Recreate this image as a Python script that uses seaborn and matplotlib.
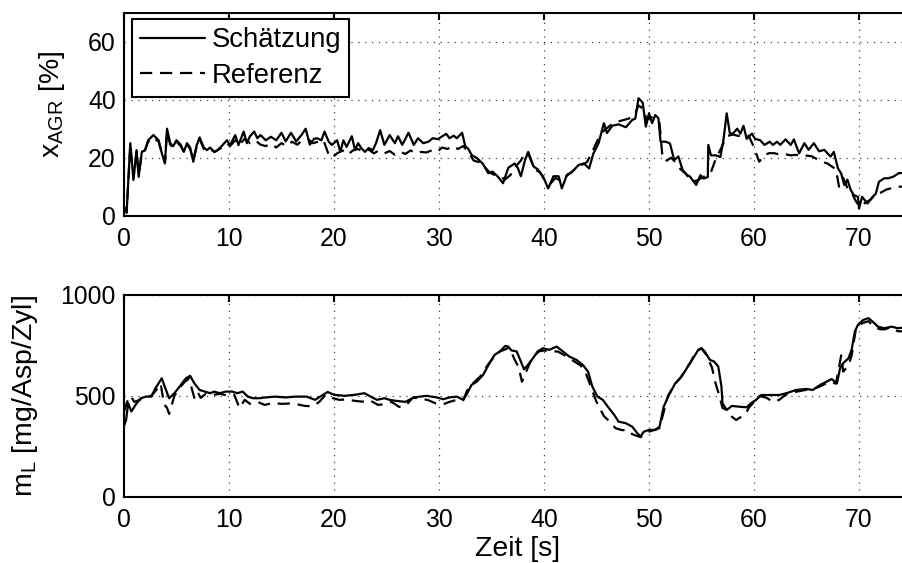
import matplotlib
matplotlib.use("Agg")
import matplotlib.pyplot as plt
import seaborn as sns
import pandas as pd

# ---- AGR rate: estimate (solid) ----
t_agr_est = [0, 0.25, 0.6, 0.9, 1.2, 1.4, 1.7, 2.0, 2.3, 2.8, 3.3, 3.6, 3.9, 4.1, 4.4, 4.7,
             5.0, 5.4, 5.7, 6.0, 6.3, 6.6, 6.9, 7.2, 7.6, 7.9, 8.2, 8.6, 8.9, 9.3, 9.8, 10.1,
             10.6, 10.9, 11.4, 11.7, 12.0, 12.4, 12.7, 13.0, 13.5, 14.0, 14.5, 15.0, 15.4,
             15.9, 16.4, 16.9, 17.3, 17.7, 18.1, 18.4, 18.8, 19.1, 19.5, 19.8, 20.3, 20.6,
             20.9, 21.2, 21.7, 22.0, 22.3, 22.6, 22.95, 23.3, 23.7, 24.0, 24.4, 24.8, 25.3,
             25.8, 26.1, 26.5, 27.1, 27.6, 28.0, 28.5, 29.0, 29.4, 29.9, 30.4, 30.7, 31.0,
             31.4, 31.7, 32.2, 32.5, 32.8, 33.1, 33.7, 34.2, 34.7, 35.1, 35.6, 36.1, 36.6,
             37.2, 37.5, 37.8, 38.2, 38.5, 39.0, 39.4, 39.9, 40.4, 40.9, 41.4, 41.7, 42.2,
             42.6, 43.3, 43.8, 44.3, 44.7, 45.2, 45.7, 46.0, 46.5, 47.1, 47.8, 48.4, 48.7,
             49.0, 49.4, 49.7, 50.0, 50.3, 50.6, 50.9, 51.1, 51.6, 52.0, 52.4, 52.8, 53.2,
             53.6, 53.9, 54.2, 54.5, 54.9, 55.2, 55.6, 55.65, 55.9, 56.4, 56.8, 57.1, 57.4,
             57.7, 58.0, 58.4, 58.7, 59.0, 59.3, 59.8, 60.1, 60.6, 61.0, 61.5, 61.8, 62.2,
             62.5, 63.0, 63.5, 63.8, 64.3, 64.8, 65.2, 65.7, 66.2, 66.7, 67.0, 67.3, 67.6,
             68.0, 68.3, 68.6, 68.9, 69.2, 69.5, 69.9, 70.0, 70.3, 70.8, 71.3, 71.6, 71.9,
             72.4, 72.8, 73.3, 73.8, 74.2, 75.0]
x_agr_est = [3, 1, 25, 12.3, 22.6, 13.4, 22, 22.6, 26, 27.8, 26, 21.6, 18, 30, 25, 24,
             26, 24.5, 22, 25, 23.5, 18.6, 24, 27, 23.5, 22.6, 23.5, 22, 22.6, 24, 26, 24.3,
             27.8, 24.3, 29, 25, 27.4, 29, 26.7, 27.8, 26, 27.2, 26, 28.6, 25.6,
             28.6, 25.6, 27.8, 30, 24.5, 26.5, 26.7, 26, 29, 25.5, 24.4, 26, 22,
             26, 23.7, 27.4, 22.6, 25, 23.3, 22, 23.3, 22.6, 25, 29.5, 24.4, 27.8,
             25, 27.4, 24.4, 28.6, 24.4, 26.7, 25, 25.5, 26.7, 26.4, 27.6, 28.2, 26.7,
             27.6, 26.7, 28.6, 24, 23, 21, 19.6, 17.8, 14.6, 15.2, 13.5, 11.2, 16.5,
             18, 16.5, 13.6, 19.2, 22, 17, 16, 13.6, 9.4, 13.6, 13.6, 9.4, 14.2,
             14.8, 17.5, 18, 16.3, 21.4, 25, 31.9, 28.5, 31, 31.5, 30.5, 33, 33.5,
             40.5, 39, 30.7, 35.3, 31.9, 34.7, 33.6, 25.5, 25.5, 24.9, 19.2, 20.4, 15.8,
             14.1, 13.5, 12, 10.6, 14, 12.8, 13.3, 24.4, 20.8, 20.8, 20.2, 26.3, 35.3,
             28.4, 28.3, 30, 28.3, 31, 26.5, 28.3, 26.5, 26, 24.4, 25.5, 24.4, 25.5,
             24.4, 26.3, 24.4, 26.3, 21.5, 25, 22.7, 25, 22.2, 22.7, 21.5, 20.4, 22,
             16.3, 14.6, 10.6, 12.4, 9, 7.1, 6.5, 2.5, 6.5, 4.2, 6.5, 7.6, 11.7,
             12.9, 12.9, 13.5, 14.7, 14.7, 14.7]

# ---- AGR rate: reference (dashed) ----
t_agr_ref = [0, 0.25, 0.6, 0.9, 1.2, 1.4, 1.7, 2.0, 2.3, 2.8, 3.3, 3.6, 3.9, 4.1, 4.4, 4.7,
             5.0, 5.4, 5.7, 6.0, 6.3, 6.6, 6.9, 7.2, 7.6, 7.9, 8.2, 8.6, 8.9, 9.3, 9.8, 10.1,
             10.6, 11.0, 11.5, 12.0, 12.5, 13.0, 13.5, 14.0, 14.5, 15.0, 15.5, 16.0, 16.5,
             17.0, 17.5, 18.0, 18.5, 19.0, 19.5, 19.8, 20.3, 20.8, 21.3, 21.8, 22.3, 22.8,
             23.3, 23.8, 24.3, 24.8, 25.3, 25.8, 26.3, 26.8, 27.3, 27.8, 28.3, 28.8, 29.3,
             29.8, 30.3, 30.8, 31.3, 31.8, 32.3, 32.8, 33.3, 33.8, 34.3, 34.8, 35.3, 35.8,
             36.3, 36.8, 37.3, 37.8, 38.2, 38.6, 39.1, 39.6, 40.1, 40.6, 41.1, 41.6, 42.1,
             42.6, 43.1, 43.6, 44.1, 44.6, 45.1, 45.6, 46.1, 46.6, 47.1, 47.6, 48.1, 48.6,
             49.0, 49.4, 49.8, 50.2, 50.6, 51.0, 51.3, 51.7, 52.1, 52.5, 53.0, 53.5, 54.0,
             54.5, 55.0, 55.5, 55.9, 56.3, 56.7, 57.1, 57.5, 58.0, 58.5, 59.0, 59.5, 59.9,
             60.5, 61.0, 61.5, 62.0, 62.5, 63.0, 63.5, 64.0, 64.5, 65.0, 65.5, 66.0, 66.5,
             67.0, 67.4, 67.8, 68.1, 68.5, 68.9, 69.3, 69.7, 70.1, 70.6, 71.1, 71.6, 72.1,
             72.6, 73.1, 73.6, 74.2, 75.0]
x_agr_ref = [3, 1, 24, 13, 22, 14, 21.5, 22.5, 25.5, 27, 25.5, 21.5, 18.5, 29, 24.5, 23.5,
             25.5, 24, 22, 24.5, 23, 19, 23.5, 26.5, 23, 22.5, 23, 22, 22.5, 23.5, 25, 24,
             26, 24.5, 26.5, 25, 26, 24.5, 24, 24.8, 23.5, 25, 24, 25.5, 24.5,
             26, 26.5, 25, 25.5, 26, 21, 20, 21.5, 22.5, 21, 22.5, 23, 22,
             22.8, 21.5, 22.5, 21.5, 22.3, 21, 22, 21.3, 22.5, 21.5, 22, 21.8, 22.5,
             22, 23.5, 23, 24, 23, 24, 22, 19, 18.5, 17, 15, 14, 13.5,
             12.5, 14, 17, 19, 22, 20.5, 16, 15, 12, 11, 13, 12, 13.5,
             15, 16.5, 17.5, 18.5, 22, 26, 29, 30.5, 32, 32.5, 33, 33.5, 34.5,
             38, 37, 33, 34, 33, 32, 19.5, 19, 20, 18.5, 16, 14.5, 12,
             12, 13, 14, 15, 19, 22, 25, 27.5, 28, 27.5, 28, 27.5, 24.4,
             18.6, 21, 21.6, 21.5, 21, 21.2, 20.8, 21, 20.5, 20.7, 20.5, 19.5, 18.5,
             18, 17, 16, 10, 13, 9.5, 8, 5, 3, 4.5, 5.5, 7.5, 8,
             9, 9.5, 10, 10, 10]

# ---- air mass: estimate (solid) ----
t_ml_est = [0, 0.2, 0.4, 0.7, 1.2, 1.6, 2.1, 2.6, 3.0, 3.6, 4.0, 4.3, 4.8, 5.3, 5.9, 6.3,
            6.7, 7.2, 7.7, 8.2, 8.6, 9.1, 9.7, 10.3, 10.8, 11.3, 11.8, 12.3, 12.9, 13.5,
            14.4, 15.4, 16.3, 17.4, 18.2, 18.8, 19.4, 20.0, 21.0, 22.0, 22.9, 23.5, 24.1,
            24.8, 25.3, 25.9, 26.8, 27.6, 28.2, 28.8, 29.8, 30.4, 31.0, 31.7, 32.3, 32.6,
            33.1, 33.6, 34.2, 34.9, 35.3, 35.8, 36.3, 36.6, 36.9, 37.4, 37.8, 38.1, 38.5,
            39.0, 39.4, 39.9, 40.5, 41.2, 41.8, 42.4, 43.1, 43.7, 44.2, 44.6, 45.1, 45.6,
            46.2, 46.7, 47.1, 47.8, 48.4, 48.9, 49.2, 49.5, 50.0, 50.6, 51.0, 51.4, 51.9,
            52.5, 53.1, 53.8, 54.3, 54.7, 55.0, 55.3, 55.8, 56.2, 56.6, 56.9, 57.0, 57.4,
            57.9, 58.6, 59.3, 59.7, 60.2, 60.7, 61.5, 62.4, 63.1, 64.0, 65.0, 65.6, 66.3,
            66.9, 67.4, 67.9, 68.2, 68.5, 69.0, 69.3, 69.6, 69.9, 70.4, 70.9, 71.3, 71.8,
            72.4, 73.1, 73.7, 74.2, 75.0]
m_l_est = [350, 380, 463, 422, 463, 488, 496, 496, 538, 587, 529, 488, 513, 546, 587, 599,
           562, 529, 521, 513, 521, 513, 521, 521, 513, 521, 496, 488, 488, 492,
           496, 492, 496, 496, 480, 500, 519, 505, 500, 505, 513, 496, 480,
           488, 480, 475, 470, 492, 496, 500, 492, 483, 492, 496, 480, 504,
           554, 570, 604, 670, 703, 720, 747, 744, 725, 720, 670, 632, 655,
           690, 720, 736, 728, 744, 720, 695, 678, 653, 620, 546, 496, 480,
           438, 405, 372, 364, 347, 314, 298, 322, 331, 331, 347, 446, 504,
           562, 595, 653, 695, 728, 736, 720, 678, 670, 645, 546, 463, 430,
           450, 446, 443, 463, 480, 504, 504, 504, 513, 529, 534, 529, 554,
           570, 583, 562, 637, 662, 686, 728, 818, 852, 876, 885, 868, 843,
           835, 843, 835, 838, 838]

# ---- air mass: reference (dashed) ----
t_ml_ref = [0, 0.3, 0.6, 1.0, 1.5, 2.0, 2.6, 3.1, 3.5, 3.8, 4.1, 4.3, 4.8, 5.3, 5.8, 6.2,
            6.7, 7.0, 7.3, 7.8, 8.5, 9.2, 9.9, 10.5, 11.0, 11.5, 12.0, 12.7, 13.4, 14.2,
            15.0, 15.8, 16.5, 17.2, 18.0, 18.6, 19.2, 19.8, 20.5, 21.2, 22.0, 22.7, 23.4,
            24.2, 24.8, 25.5, 26.2, 26.8, 27.5, 28.2, 29.0, 29.7, 30.4, 31.0, 31.7, 32.3,
            32.8, 33.4, 34.0, 34.6, 35.2, 35.8, 36.3, 36.7, 37.2, 37.6, 37.9, 38.3, 38.8,
            39.5, 40.0, 40.5, 41.3, 42.0, 42.6, 43.5, 44.0, 44.5, 45.0, 45.7, 46.3, 46.8,
            47.4, 48.0, 48.4, 49.2, 49.8, 50.5, 51.0, 51.4, 51.8, 52.5, 53.0, 54.0, 54.5,
            55.0, 55.5, 56.0, 56.3, 56.7, 57.0, 57.4, 57.8, 58.3, 58.6, 59.2, 59.5, 60.0,
            60.5, 61.2, 61.8, 62.4, 63.0, 64.0, 65.0, 66.0, 66.8, 67.3, 67.8, 68.1, 68.3,
            68.5, 69.0, 69.3, 69.7, 70.3, 70.9, 71.5, 72.0, 72.5, 73.0, 73.7, 74.2, 75.0]
m_l_ref = [420, 470, 500, 470, 480, 495, 500, 530, 560, 460, 440, 410, 500, 540, 570, 585,
           490, 520, 490, 510, 505, 510, 500, 505, 440, 480, 460, 470, 455, 465,
           460, 462, 458, 450, 448, 470, 505, 490, 480, 482, 475, 471, 478,
           455, 458, 470, 445, 450, 490, 488, 478, 462, 458, 470, 480, 478,
           540, 570, 600, 650, 690, 720, 730, 740, 680, 640, 570, 620, 680,
           720, 725, 720, 720, 700, 680, 650, 610, 540, 470, 400, 370, 340,
           330, 330, 310, 295, 320, 330, 340, 420, 500, 560, 590, 670, 720,
           735, 700, 640, 570, 500, 440, 430, 400, 380, 390, 410, 440, 470,
           500, 490, 470, 480, 505, 520, 530, 540, 560, 570, 560, 640, 700,
           620, 650, 700, 830, 860, 870, 840, 830, 830, 840, 820, 820, 820]

x_ticks = [0, 10, 20, 30, 40, 50, 60, 70]
agr_ticks = [0, 20, 40, 60]
ml_ticks = [0, 500, 1000]

sns.set_theme(style="white")
plt.rcParams.update({
    "font.family": ["Liberation Sans", "DejaVu Sans"],
    "mathtext.default": "regular",
    "font.size": 17.8,
    "axes.linewidth": 1.5,
    "axes.edgecolor": "black",
    "xtick.direction": "in",
    "ytick.direction": "in",
    "xtick.top": True,
    "ytick.right": True,
    "xtick.major.size": 5,
    "ytick.major.size": 5,
    "xtick.major.width": 1.5,
    "ytick.major.width": 1.5,
    "xtick.major.pad": 8,
    "ytick.major.pad": 6,
    "xtick.color": "black",
    "ytick.color": "black",
    "xtick.labelsize": 17.8,
    "ytick.labelsize": 17.8,
    "axes.labelcolor": "black",
    "text.color": "black",
})

label_size = 20.5
legend_size = 19.8

fig = plt.figure(figsize=(9.03, 5.63), dpi=100)
left, width = 0.1373, 0.8721
ax1 = fig.add_axes([left, 0.6169, width, 0.3606])
ax2 = fig.add_axes([left, 0.1178, width, 0.3583])

dash = (0, (5.5, 3.5))
lw = 1.6

df_agr_est = pd.DataFrame({"t": t_agr_est, "v": x_agr_est})
df_agr_ref = pd.DataFrame({"t": t_agr_ref, "v": x_agr_ref})
df_ml_est = pd.DataFrame({"t": t_ml_est, "v": m_l_est})
df_ml_ref = pd.DataFrame({"t": t_ml_ref, "v": m_l_ref})

sns.lineplot(data=df_agr_est, x="t", y="v", ax=ax1, color="black", lw=lw,
             estimator=None, sort=False, label="Schätzung")
sns.lineplot(data=df_agr_ref, x="t", y="v", ax=ax1, color="black", lw=lw,
             linestyle=dash, estimator=None, sort=False, label="Referenz")
sns.lineplot(data=df_ml_est, x="t", y="v", ax=ax2, color="black", lw=lw,
             estimator=None, sort=False, legend=False)
sns.lineplot(data=df_ml_ref, x="t", y="v", ax=ax2, color="black", lw=lw,
             linestyle=dash, estimator=None, sort=False, legend=False)

for ax, yt, ylim in ((ax1, agr_ticks, (0, 70)), (ax2, ml_ticks, (0, 1000))):
    ax.set_xlim(0, 75)
    ax.set_ylim(*ylim)
    ax.set_xticks(x_ticks)
    ax.set_yticks(yt)
    ax.grid(True, color="#404040", linestyle=(0, (1, 4.5)), linewidth=0.9)
    for s in ax.spines.values():
        s.set_color("black")
        s.set_linewidth(1.5)
    ax.set_axisbelow(True)

ax1.set_xlabel("")
ax1.set_ylabel(r"x$_{AGR}$ [%]", fontsize=label_size)
ax2.set_ylabel(r"m$_{L}$ [mg/Asp/Zyl]", fontsize=label_size)
ax2.set_xlabel("Zeit [s]", fontsize=label_size)
ax1.yaxis.set_label_coords(-0.072, 0.55)
ax2.yaxis.set_label_coords(-0.107, 0.5)
ax2.xaxis.set_label_coords(0.5, -0.195)

leg = ax1.legend(loc="upper left", bbox_to_anchor=(0.0098, 0.969), frameon=True,
                 fancybox=False, framealpha=1, edgecolor="black", borderpad=0.3,
                 handlelength=2.35, handletextpad=0.25, labelspacing=0.35,
                 borderaxespad=0.0, fontsize=legend_size)
leg.get_frame().set_linewidth(1.5)

fig.savefig("out.png", dpi=100)
